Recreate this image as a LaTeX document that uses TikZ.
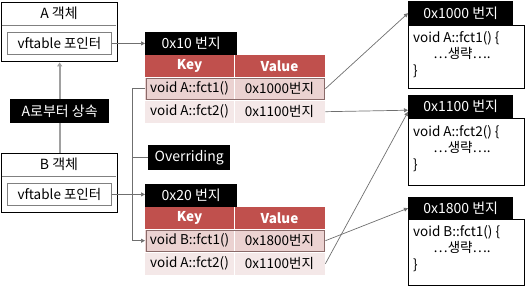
\documentclass[tikz,border=0pt]{standalone}
\usepackage{fontspec}
\setmainfont{Noto Sans CJK KR}
\usetikzlibrary{arrows.meta,calc}
\definecolor{hdrred}{HTML}{C0504D}
\definecolor{rowa}{HTML}{EBD2D1}
\definecolor{rowb}{HTML}{F4E8E8}
\definecolor{rowline}{HTML}{8A6A69}
\definecolor{conn}{HTML}{6F6F6F}
\definecolor{inh}{HTML}{A0A0A0}
\begin{document}
\begin{tikzpicture}[x=1pt,y=-1pt,
  font=\fontsize{13.5}{15}\selectfont,
  objbox/.style={draw, line width=1.4pt, inner sep=0pt, anchor=north west},
  ptrbox/.style={draw=gray, line width=0.8pt, inner sep=0pt, anchor=north west, minimum width=104pt, minimum height=22pt},
  blk/.style={fill=black, text=white, inner sep=0pt, anchor=north west, font=\fontsize{14}{15}\selectfont},
  rowcell/.style={inner sep=0pt, anchor=north west, minimum width=180pt, minimum height=23pt},
  bodybox/.style={draw, line width=1.4pt, fill=white, inner sep=0pt, anchor=north west, minimum width=116pt},
  bodytxt/.style={anchor=north west, align=left, inner sep=0pt, font=\fontsize{13.5}{16.5}\selectfont},
  hdrtxt/.style={text=white, font=\bfseries\fontsize{13.5}{15}\selectfont},
  conn/.style={draw=conn, line width=0.7pt, -{Triangle[length=4pt,width=4pt]}},
  connplain/.style={draw=conn, line width=0.7pt}
]
\useasboundingbox (0,0) rectangle (526,287);

% ---------- A object ----------
\node[objbox, minimum width=116pt, minimum height=59pt] (Aobj) at (1,2) {};
\draw[gray, line width=0.8pt] (1.7,25) -- (116.3,25);
\node at (59,13.5) {\fontsize{14}{15}\selectfont A 객체};
\node[ptrbox] (Aptr) at (7,32) {};
\node at (Aptr.center) {vftable 포인터};

% ---------- B object ----------
\node[objbox, minimum width=116pt, minimum height=59pt] (Bobj) at (1,153) {};
\draw[gray, line width=0.8pt] (1.7,176) -- (116.3,176);
\node at (59,164.5) {\fontsize{14}{15}\selectfont B 객체};
\node[ptrbox] (Bptr) at (7,183) {};
\node at (Bptr.center) {vftable 포인터};

% inheritance
\draw[inh, line width=2pt, -{Triangle[length=4pt,width=5pt]}] (Bobj.north) -- (Aobj.south);
\node[blk, minimum width=99pt, minimum height=24pt] (inhlbl) at (10,99) {A로부터 상속};

% ---------- 0x10 table ----------
\node[blk, minimum width=92pt, minimum height=23pt] (h10) at (145,32) {0x10 번지};
\fill[hdrred] (145,55) rectangle (325,77);
\node[rowcell, fill=rowa] (r1a) at (145,77) {};
\node[rowcell, fill=rowb] (r2a) at (145,100) {};
\draw[white, line width=1pt] (145,77) -- (325,77) (145,100) -- (325,100) (234,55) -- (234,123);
\draw[rowline, line width=0.8pt] (146,78.5) rectangle (324,99);
\node[hdrtxt] at (189.5,66) {Key};
\node[hdrtxt] at (279.5,66) {Value};
\node at (189.5,88.5) {void A::fct1()};
\node at (279.5,88.5) {0x1000번지};
\node at (189.5,111.5) {void A::fct2()};
\node at (279.5,111.5) {0x1100번지};

% ---------- 0x20 table ----------
\node[blk, minimum width=92pt, minimum height=23pt] (h20) at (145,184) {0x20 번지};
\fill[hdrred] (145,207) rectangle (325,229);
\node[rowcell, fill=rowa] (r1b) at (145,229) {};
\node[rowcell, fill=rowb] (r2b) at (145,252) {};
\draw[white, line width=1pt] (145,229) -- (325,229) (145,252) -- (325,252) (234,207) -- (234,275);
\draw[rowline, line width=0.8pt] (146,230.5) rectangle (324,251);
\node[hdrtxt] at (189.5,218) {Key};
\node[hdrtxt] at (279.5,218) {Value};
\node at (189.5,240.5) {void B::fct1()};
\node at (279.5,240.5) {0x1800번지};
\node at (189.5,263.5) {void A::fct2()};
\node at (279.5,263.5) {0x1100번지};

% Overriding
\node[blk, minimum width=82pt, minimum height=25pt] (ovr) at (148,145) {Overriding};

% ---------- function blocks ----------
\node[blk, minimum width=105pt, minimum height=24pt] (h1000) at (408,1) {0x1000 번지};
\node[bodybox, minimum height=63pt] (b1000) at (408,25) {};
\node[bodytxt] at (413,31) {void A::fct1() \{\\\hspace{1.5em}…생략….\\\}};

\node[blk, minimum width=105pt, minimum height=23pt] (h1100) at (408,95) {0x1100 번지};
\node[bodybox, minimum height=67pt] (b1100) at (408,118) {};
\node[bodytxt] at (413,125) {void A::fct2() \{\\\hspace{1.5em}…생략….\\\}};

\node[blk, minimum width=105pt, minimum height=22pt] (h1800) at (408,197) {0x1800 번지};
\node[bodybox, minimum height=66pt] (b1800) at (408,219) {};
\node[bodytxt] at (413,225) {void B::fct1() \{\\\hspace{1.5em}…생략….\\\}};

% ---------- connectors ----------
\coordinate (vx) at (132,0);
\draw[conn] (Aptr.east) -- (Aptr.east -| h10.west);
\draw[conn] (Bptr.east) -- (Bptr.east -| h20.west);
\draw[conn] (r1a.west) -- (r1a.west -| vx) |- (r1b.west);
\draw[connplain] (ovr.west) -- (ovr.west -| vx);
\draw[conn] (r1a.east) -- (h1000.west);
\draw[conn] (r2a.east) -- ($(h1100.south west)!0.35!(h1100.north west)$);
\draw[conn] (r1b.east) -- (h1800.west);
\draw[conn] (r2b.east) -- ($(h1100.south west)!0.28!(h1100.north west)$);
\end{tikzpicture}
\end{document}
